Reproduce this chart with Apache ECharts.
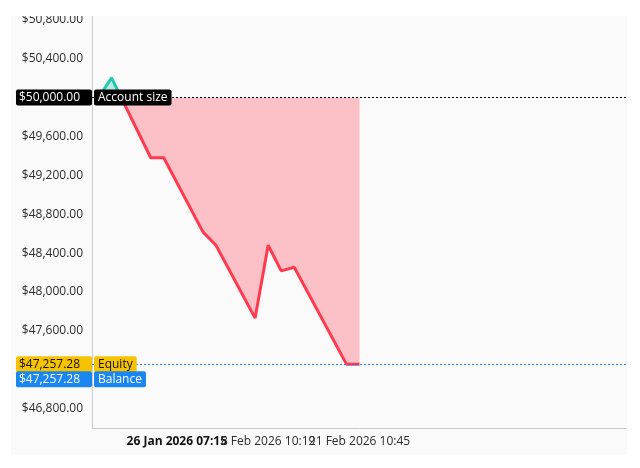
<!DOCTYPE html>
<html><head><meta charset="utf-8">
<script src="https://cdn.jsdelivr.net/npm/echarts@6/dist/echarts.min.js"></script>
<style>html,body{margin:0;padding:0;background:#fff;}#c{position:absolute;left:11px;top:16px;width:616px;height:439px;}</style>
</head><body><div id="c"></div>
<script>
// ---- data ----
const categoryCount = 41;
const tickIndex = [6, 13, 20];
const tickText = ['26 Jan 2026 07:15', '8 Feb 2026 10:19', '21 Feb 2026 10:45'];
const pointIndex = [0, 1, 4, 5, 8, 9, 12, 13, 14, 15, 19, 20];
const pointValues = [50000, 50204, 49381, 49381, 48618, 48481, 47731, 48481, 48217, 48255, 47257.28, 47257.28];
const accountSize = 50000;
const equity = 47257.28;
const balance = 47257.28;
const yMin = 46600, yMax = 50840, yStep = 200, yLabelStep = 400;

// ---- build ----
const FONT = '"Open Sans"';
const categories = [];
for (let i = 0; i < categoryCount; i++) {
  const k = tickIndex.indexOf(i);
  categories.push(k >= 0 ? tickText[k] : 'slot' + i);
}
const seriesData = new Array(pointIndex[pointIndex.length - 1] + 1).fill(null);
pointIndex.forEach((idx, k) => { seriesData[idx] = pointValues[k]; });
const fmt = v => '$' + v.toLocaleString('en-US', {minimumFractionDigits: 2, maximumFractionDigits: 2});

function boxLabel(value, name, bg, fg, pos, dist) {
  return {
    show: true, position: pos, distance: dist,
    formatter: '{v|' + fmt(value) + '}{g|}{n|' + name + '}',
    rich: {
      v: {backgroundColor: bg, color: fg, width: 67, align: 'right', padding: [2, 9, 2, 0], borderRadius: 2, fontSize: 12, lineHeight: 12, fontFamily: FONT},
      g: {width: 2},
      n: {backgroundColor: bg, color: fg, padding: [2, 4, 2, 4], borderRadius: 2, fontSize: 12, lineHeight: 12, fontFamily: FONT}
    }
  };
}

// edge slots carry a blank label so the real labels are not treated as min/max labels
const edgeSlots = [0, categoryCount - 1];
const labelShown = i => tickIndex.indexOf(i) >= 0 || edgeSlots.indexOf(i) >= 0;

const chart = echarts.init(document.getElementById('c'), null, {renderer: 'canvas'});
chart.setOption({
  animation: false,
  backgroundColor: '#fafafa',
  grid: {left: 81, right: 0, top: 0, bottom: 27, containLabel: false, outerBoundsMode: 'none'},
  xAxis: {
    type: 'category', data: categories, boundaryGap: true,
    axisLine: {lineStyle: {color: '#c8cbd0'}},
    axisTick: {alignWithLabel: true, interval: i => tickIndex.indexOf(i) >= 0, length: 4, lineStyle: {color: '#c8cbd0'}},
    axisLabel: {
      interval: labelShown, hideOverlap: false,
      margin: 8, fontSize: 12, color: '#2b2b2b', fontFamily: FONT,
      formatter: (v, i) => {
        const k = tickIndex.indexOf(i);
        if (k < 0) return ' ';
        return k === 0 ? '{b|' + v + '}' : v;
      },
      rich: {b: {fontWeight: 'bold', fontSize: 12, color: '#111', fontFamily: FONT}}
    },
    splitLine: {show: false}
  },
  yAxis: {
    type: 'value', min: yMin, max: yMax, interval: yStep,
    axisLine: {show: true, lineStyle: {color: '#c8cbd0'}},
    axisTick: {show: false},
    splitLine: {show: false},
    axisLabel: {
      margin: 9, fontSize: 12, color: '#2b2b2b', fontFamily: FONT,
      formatter: v => (v % yLabelStep === 0 ? fmt(v) : '')
    }
  },
  visualMap: {
    type: 'piecewise', show: false, dimension: 1, seriesIndex: 0,
    pieces: [{gte: accountSize, lte: accountSize * 2, color: '#1fc9ad'}, {gte: 0, lt: accountSize, color: '#ff3a4f'}]
  },
  series: [{
    type: 'line', data: seriesData, connectNulls: true, showSymbol: false, symbol: 'none',
    lineStyle: {width: 3},
    areaStyle: {origin: accountSize, opacity: 0.3},
    markLine: {
      symbol: 'none', silent: true,
      data: [
        {yAxis: accountSize, lineStyle: {color: '#000', type: [2, 2], width: 1}, label: boxLabel(accountSize, 'Account size', '#000', '#fff', 'insideStart', [-76, 0])},
        {yAxis: equity, lineStyle: {color: '#1a7fe6', type: [2, 2], width: 1}, label: boxLabel(equity, 'Equity', '#f7c300', '#111', 'insideStart', [-76, 0])},
        {yAxis: balance, lineStyle: {color: '#1a7fe6', type: [2, 2], width: 1}, label: boxLabel(balance, 'Balance', '#1a86f0', '#fff', 'insideStartBottom', [-76, 9])}
      ]
    }
  }]
});
</script></body></html>
